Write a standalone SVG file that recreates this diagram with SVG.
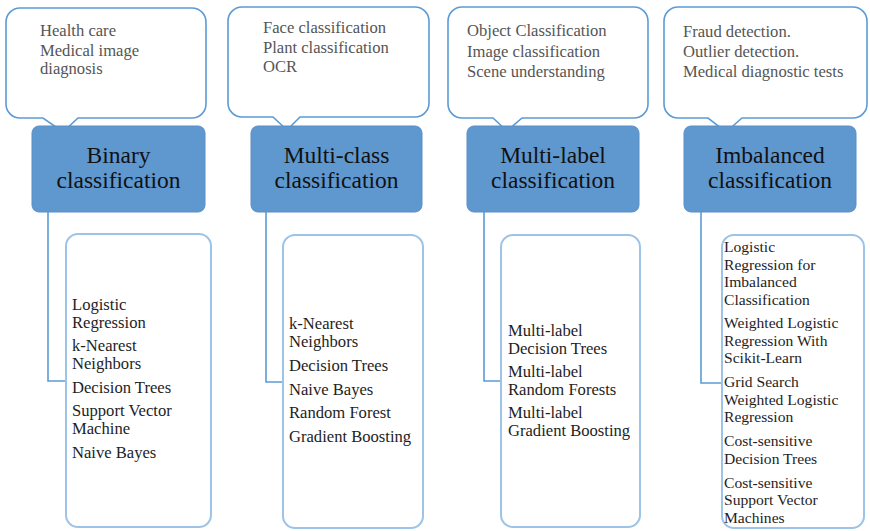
<svg xmlns="http://www.w3.org/2000/svg" width="870" height="531" viewBox="0 0 870 531">
<style>
.callout{fill:#fff;stroke:#5b9bd5;stroke-width:1.6}
.head{fill:#5f97cf;stroke:#5b8fc7;stroke-width:1}
.list{fill:#fff;stroke:#9dc3e6;stroke-width:2}
.conn{fill:none;stroke:#5b9bd5;stroke-width:1.6}
.ct{font-family:"Liberation Serif","Times New Roman",serif;font-size:16.6px;fill:#555}
.ht{font-family:"Liberation Serif","Times New Roman",serif;font-size:23.5px;fill:#111;text-anchor:middle}
.lt{font-family:"Liberation Serif","Times New Roman",serif;font-size:16.6px;fill:#1e1e1e}
.lt2{font-family:"Liberation Serif","Times New Roman",serif;font-size:15.6px;fill:#1e1e1e}
</style>
<rect width="870" height="531" fill="#fff"/>
<g id="connectors">
<path class="conn" d="M48,212 V381 H66"/>
<path class="conn" d="M266,211 V382 H283"/>
<path class="conn" d="M484,211 V381 H501"/>
<path class="conn" d="M701,211 V383 H722"/>
</g>
<g id="binary-apps">
<path class="callout" d="M20,8 H192 A14,14 0 0 1 206,22 V104 A14,14 0 0 1 192,118 H78 L63,132 L43,118 H20 A14,14 0 0 1 6,104 V22 A14,14 0 0 1 20,8 Z"/>
<text class="ct" x="40" y="36">Health care</text>
<text class="ct" x="40" y="56">Medical image</text>
<text class="ct" x="40" y="74">diagnosis</text>
</g>
<g id="binary">
<rect class="head" x="32" y="126" width="173" height="86" rx="7"/>
<text class="ht" x="118.5" y="163">Binary</text>
<text class="ht" x="118.5" y="188">classification</text>
</g>
<g id="binary-list">
<rect class="list" x="66" y="234" width="145" height="293" rx="12"/>
<text class="lt" x="72" y="310">Logistic</text>
<text class="lt" x="72" y="328">Regression</text>
<text class="lt" x="72" y="351">k-Nearest</text>
<text class="lt" x="72" y="369">Neighbors</text>
<text class="lt" x="72" y="393">Decision Trees</text>
<text class="lt" x="72" y="416">Support Vector</text>
<text class="lt" x="72" y="434">Machine</text>
<text class="lt" x="72" y="458">Naive Bayes</text>
</g>
<g id="multiclass-apps">
<path class="callout" d="M242,7 H415 A14,14 0 0 1 429,21 V103 A14,14 0 0 1 415,117 H300 L287,130 L273,117 H242 A14,14 0 0 1 228,103 V21 A14,14 0 0 1 242,7 Z"/>
<text class="ct" x="263" y="33">Face classification</text>
<text class="ct" x="263" y="53">Plant classification</text>
<text class="ct" x="263" y="72">OCR</text>
</g>
<g id="multiclass">
<rect class="head" x="251" y="126" width="171" height="86" rx="7"/>
<text class="ht" x="336.5" y="163">Multi-class</text>
<text class="ht" x="336.5" y="188">classification</text>
</g>
<g id="multiclass-list">
<rect class="list" x="283" y="235" width="140" height="293" rx="12"/>
<text class="lt" x="289" y="329">k-Nearest</text>
<text class="lt" x="289" y="347">Neighbors</text>
<text class="lt" x="289" y="371">Decision Trees</text>
<text class="lt" x="289" y="395">Naive Bayes</text>
<text class="lt" x="289" y="418">Random Forest</text>
<text class="lt" x="289" y="442">Gradient Boosting</text>
</g>
<g id="multilabel-apps">
<path class="callout" d="M462,7 H634 A14,14 0 0 1 648,21 V104 A14,14 0 0 1 634,118 H522 L507,131 L493,118 H462 A14,14 0 0 1 448,104 V21 A14,14 0 0 1 462,7 Z"/>
<text class="ct" x="467" y="36">Object Classification</text>
<text class="ct" x="467" y="57">Image classification</text>
<text class="ct" x="467" y="77">Scene understanding</text>
</g>
<g id="multilabel">
<rect class="head" x="467" y="126" width="172" height="86" rx="7"/>
<text class="ht" x="553" y="163">Multi-label</text>
<text class="ht" x="553" y="188">classification</text>
</g>
<g id="multilabel-list">
<rect class="list" x="501" y="235" width="139" height="292" rx="12"/>
<text class="lt" x="508" y="336">Multi-label</text>
<text class="lt" x="508" y="354">Decision Trees</text>
<text class="lt" x="508" y="377">Multi-label</text>
<text class="lt" x="508" y="395">Random Forests</text>
<text class="lt" x="508" y="418">Multi-label</text>
<text class="lt" x="508" y="436">Gradient Boosting</text>
</g>
<g id="imbalanced-apps">
<path class="callout" d="M678,7 H853 A14,14 0 0 1 867,21 V104 A14,14 0 0 1 853,118 H742 L726,132 L708,118 H678 A14,14 0 0 1 664,104 V21 A14,14 0 0 1 678,7 Z"/>
<text class="ct" x="683" y="37">Fraud detection.</text>
<text class="ct" x="683" y="57">Outlier detection.</text>
<text class="ct" x="683" y="77">Medical diagnostic tests</text>
</g>
<g id="imbalanced">
<rect class="head" x="684" y="126" width="172" height="86" rx="7"/>
<text class="ht" x="770" y="163">Imbalanced</text>
<text class="ht" x="770" y="188">classification</text>
</g>
<g id="imbalanced-list">
<rect class="list" x="722" y="235" width="142" height="293" rx="12"/>
<text class="lt2" x="724" y="252">Logistic</text>
<text class="lt2" x="724" y="269.5">Regression for</text>
<text class="lt2" x="724" y="287">Imbalanced</text>
<text class="lt2" x="724" y="304.5">Classification</text>
<text class="lt2" x="724" y="328">Weighted Logistic</text>
<text class="lt2" x="724" y="345.5">Regression With</text>
<text class="lt2" x="724" y="363">Scikit-Learn</text>
<text class="lt2" x="724" y="387">Grid Search</text>
<text class="lt2" x="724" y="404.5">Weighted Logistic</text>
<text class="lt2" x="724" y="422">Regression</text>
<text class="lt2" x="724" y="446">Cost-sensitive</text>
<text class="lt2" x="724" y="463.5">Decision Trees</text>
<text class="lt2" x="724" y="487.5">Cost-sensitive</text>
<text class="lt2" x="724" y="505">Support Vector</text>
<text class="lt2" x="724" y="522.5">Machines</text>
</g>
</svg>
